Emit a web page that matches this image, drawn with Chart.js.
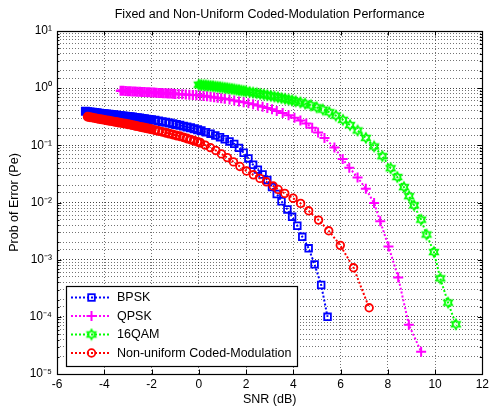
<!DOCTYPE html>
<html>
<head>
<meta charset="utf-8">
<script src="https://cdn.jsdelivr.net/npm/chart.js@4/dist/chart.umd.min.js"></script>
<style>
html,body{margin:0;padding:0;background:#fff;}
canvas{display:block;}
</style>
</head>
<body>
<canvas id="c" width="492" height="407"></canvas>
<script>
// ---------------- data ----------------
const chartTitle = 'Fixed and Non-Uniform Coded-Modulation Performance';
const xTitle = 'SNR (dB)';
const yTitle = 'Prob of Error (Pe)';
const seriesNames = ['BPSK', 'QPSK', '16QAM', 'Non-uniform Coded-Modulation'];
const xTickValues = [-6, -4, -2, 0, 2, 4, 6, 8, 10, 12];

const bpskSnr = [-4.8,-4.7,-4.6,-4.5,-4.4,-4.3,-4.2,-4.1,-4.0,-3.9,-3.8,-3.7,-3.6,-3.5,-3.4,-3.3,-3.2,-3.1,-3.0,-2.9,-2.8,-2.7,-2.6,-2.5,-2.4,-2.3,-2.2,-2.1,-2.0,
  -1.85,-1.7,-1.55,-1.4,-1.25,-1.1,-0.95,-0.8,-0.65,-0.5,-0.35,-0.2,-0.05,
  0.1,0.3,0.5,0.7,0.9,1.1,1.3,1.5,1.7,
  1.9,2.1,2.3,2.5,2.7,2.9,3.1,3.3,
  3.5,3.75,3.95,4.17,4.38,4.65,4.9,5.18,5.45];
const bpskPe = [0.394,0.389,0.385,0.380,0.376,0.372,0.367,0.363,0.359,0.355,0.351,0.347,0.343,0.339,0.335,0.331,0.327,0.324,0.320,0.316,0.313,0.309,0.305,0.301,0.296,0.292,0.288,0.284,0.281,
  0.274,0.267,0.260,0.253,0.246,0.239,0.232,0.224,0.217,0.210,0.203,0.195,0.188,
  0.180,0.170,0.160,0.149,0.139,0.128,0.117,0.106,0.0902,
  0.0741,0.0590,0.0457,0.0376,0.0309,0.0248,0.0186,0.0141,
  0.0105,0.00757,0.00562,0.00392,0.00251,0.00158,0.000828,0.000360,0.000100];

const qpskSnr = [-3.3,-3.2,-3.1,-3.0,-2.9,-2.8,-2.7,-2.6,-2.5,-2.4,-2.3,-2.2,-2.1,-2.0,-1.9,-1.8,-1.7,-1.6,-1.5,-1.4,-1.3,-1.2,-1.1,-1.0,
  -0.85,-0.7,-0.55,-0.4,-0.25,-0.1,0.05,0.2,0.35,0.5,0.65,0.8,0.95,1.1,
  1.3,1.5,1.7,1.9,2.1,2.3,2.5,2.7,2.9,3.1,
  3.3,3.55,3.8,4.05,4.3,4.55,4.8,5.05,5.32,5.74,6.09,6.37,6.72,7.07,7.42,7.68,8.03,8.44,8.89,9.41];
const qpskPe = [0.902,0.898,0.893,0.887,0.883,0.877,0.873,0.869,0.863,0.859,0.855,0.849,0.845,0.841,0.836,0.832,0.826,0.822,0.817,0.813,0.807,0.803,0.798,0.794,
  0.787,0.780,0.774,0.767,0.760,0.754,0.746,0.733,0.719,0.706,0.692,0.678,0.664,0.650,
  0.631,0.610,0.587,0.566,0.545,0.521,0.499,0.475,0.451,0.426,
  0.400,0.367,0.335,0.303,0.272,0.240,0.204,0.168,0.135,0.0912,0.0575,0.0407,0.0275,0.0174,0.00977,0.00468,0.00170,0.000490,0.0000724,0.0000245];

const qamSnr = [0.0,0.1,0.2,0.3,0.4,0.5,0.6,0.7,0.8,0.9,1.0,1.1,1.2,1.3,1.4,1.5,1.6,1.7,1.8,1.9,2.0,
  2.15,2.3,2.45,2.6,2.75,2.9,3.05,3.2,3.35,3.5,3.65,3.8,3.95,
  4.1,4.3,4.5,4.75,4.99,5.25,5.52,5.80,6.10,6.40,6.72,7.07,7.42,7.77,8.12,8.40,8.68,8.90,9.11,9.41,9.64,9.95,10.22,10.55,10.88];
const qamPe = [1.148,1.138,1.127,1.117,1.107,1.094,1.081,1.069,1.057,1.042,1.028,1.014,1.000,0.986,0.971,0.955,0.940,0.925,0.910,0.895,0.879,
  0.857,0.836,0.815,0.794,0.774,0.753,0.733,0.713,0.692,0.671,0.652,0.631,0.611,
  0.590,0.564,0.537,0.501,0.462,0.422,0.380,0.331,0.279,0.226,0.182,0.135,0.0955,0.0646,0.0398,0.0279,0.0186,0.0129,0.00891,0.00501,0.00275,0.00136,0.000471,0.000177,0.0000740];

const ncmSnr = [-4.7,-4.6,-4.5,-4.4,-4.3,-4.2,-4.1,-4.0,-3.9,-3.8,-3.7,-3.6,-3.5,-3.4,-3.3,-3.2,-3.1,-3.0,-2.9,-2.8,-2.7,-2.6,-2.5,-2.4,-2.3,-2.2,-2.1,-2.0,
  -1.85,-1.7,-1.55,-1.4,-1.25,-1.1,-0.95,-0.8,-0.65,-0.5,-0.35,-0.2,-0.05,
  0.06,0.27,0.49,0.72,0.96,1.21,1.47,1.74,
  2.02,2.31,2.59,2.86,3.15,3.36,3.64,3.99,4.31,4.65,5.07,5.50,5.99,6.55,7.21];
const ncmPe = [0.316,0.310,0.305,0.299,0.294,0.288,0.284,0.279,0.274,0.269,0.265,0.260,0.256,0.251,0.247,0.243,0.239,0.234,0.230,0.225,0.220,0.216,0.211,0.207,0.203,0.199,0.195,0.191,
  0.184,0.178,0.172,0.166,0.160,0.155,0.149,0.144,0.138,0.132,0.126,0.120,0.115,
  0.111,0.101,0.0912,0.0813,0.0708,0.0610,0.0513,0.0427,
  0.0355,0.0305,0.0264,0.0230,0.0194,0.0169,0.0144,0.0119,0.00964,0.00716,0.00492,0.00320,0.00178,0.000721,0.000144];

// ---------------- styling ----------------
const FONT = '"Liberation Sans", Arial, Helvetica, sans-serif';
Chart.defaults.font.family = FONT;
Chart.defaults.color = '#000';

function hexagram(color, R, filled) {
  const s = Math.ceil(2 * R + 4);
  const c = document.createElement('canvas');
  c.width = s; c.height = s;
  const g = c.getContext('2d');
  g.strokeStyle = color; g.fillStyle = color; g.lineWidth = 1.7; g.lineJoin = 'miter';
  g.beginPath();
  for (let k = 0; k < 12; k++) {
    const a = -Math.PI / 2 + k * Math.PI / 6;
    const r = (k % 2 === 0) ? R : R / Math.sqrt(3);
    const px = s / 2 + r * Math.cos(a), py = s / 2 + r * Math.sin(a);
    if (k === 0) g.moveTo(px, py); else g.lineTo(px, py);
  }
  g.closePath();
  if (filled) g.fill();
  g.stroke();
  return c;
}
const hexImg = hexagram('#00ff00', 4.8, false);
const hexFilled = hexagram('#00ff00', 4.8, true);

function pts(xs, ys) { return xs.map((x, i) => ({x: x, y: ys[i]})); }
function isDecade(v) {
  const e = Math.round(Math.log10(v));
  return Math.abs(v - Math.pow(10, e)) / Math.pow(10, e) < 1e-6;
}
const SUP = {'0':'⁰','1':'¹','2':'²','3':'³','4':'⁴','5':'⁵','6':'⁶','7':'⁷','8':'⁸','9':'⁹','-':'⁻'};
function supStr(n) { return String(n).split('').map(ch => SUP[ch]).join(''); }

// nearest-neighbour spacing of each point: where the reference markers pile up
// into a solid band, the markers are drawn solid.
function gaps(xs) {
  return xs.map((x, i) => {
    let g = Infinity;
    if (i > 0) g = Math.min(g, x - xs[i - 1]);
    if (i < xs.length - 1) g = Math.min(g, xs[i + 1] - x);
    return g;
  });
}
const TRANSP = 'rgba(0,0,0,0)';
function fillArr(xs, color) { return gaps(xs).map(g => g < 0.105 ? color : TRANSP); }
function widthArr(xs, dense, mid, sparse) { return gaps(xs).map(g => g < 0.105 ? dense : (g < 0.16 ? mid : sparse)); }

const common = { borderWidth: 2, borderDash: [2, 2], tension: 0, backgroundColor: TRANSP, pointHoverRadius: 5 };

const datasets = [
  Object.assign({}, common, { label: seriesNames[0], data: pts(bpskSnr, bpskPe), borderColor: '#0000ff', pointBorderColor: '#0000ff',
    pointBackgroundColor: fillArr(bpskSnr, '#0000ff'), pointBorderWidth: widthArr(bpskSnr, 2.2, 2.3, 1.8), pointStyle: 'rect', pointRadius: 4.7, order: 4 }),
  Object.assign({}, common, { label: seriesNames[1], data: pts(qpskSnr, qpskPe), borderColor: '#ff00ff', pointBorderColor: '#ff00ff',
    pointBackgroundColor: TRANSP, pointBorderWidth: widthArr(qpskSnr, 2.6, 2.2, 2), pointStyle: 'cross', pointRadius: 5, order: 3 }),
  Object.assign({}, common, { label: seriesNames[2], data: pts(qamSnr, qamPe), borderColor: '#00ff00', pointBorderColor: '#00ff00',
    pointBackgroundColor: TRANSP, pointStyle: gaps(qamSnr).map(g => g < 0.105 ? hexFilled : hexImg), pointRadius: 5, order: 2 }),
  Object.assign({}, common, { label: seriesNames[3], data: pts(ncmSnr, ncmPe), borderColor: '#ff0000', pointBorderColor: '#ff0000',
    pointBackgroundColor: fillArr(ncmSnr, '#ff0000'), pointBorderWidth: widthArr(ncmSnr, 2.2, 2.3, 1.8), pointStyle: 'circle', pointRadius: 3.8, order: 1 })
];
const legendMarkers = ['rect', 'cross', hexImg, 'circle'];

// axes box + inward tick marks (MATLAB style)
const framePlugin = {
  id: 'frame',
  afterDatasetsDraw(chart) {
    const {ctx, chartArea: a, scales: {x, y}} = chart;
    ctx.save();
    ctx.strokeStyle = '#000'; ctx.lineWidth = 1;
    ctx.beginPath();
    x.ticks.forEach(t => {
      const px = Math.round(x.getPixelForValue(t.value)) + 0.5;
      ctx.moveTo(px, a.bottom); ctx.lineTo(px, a.bottom - 4.5);
      ctx.moveTo(px, a.top); ctx.lineTo(px, a.top + 4.5);
    });
    y.ticks.forEach(t => {
      const py = Math.round(y.getPixelForValue(t.value)) + 0.5;
      const L = isDecade(t.value) ? 4.5 : 2.5;
      ctx.moveTo(a.left, py); ctx.lineTo(a.left + L, py);
      ctx.moveTo(a.right, py); ctx.lineTo(a.right - L, py);
    });
    ctx.stroke();
    ctx.lineWidth = 1.2;
    ctx.strokeRect(Math.round(a.left) + 0.5, Math.round(a.top) + 0.5, Math.round(a.right - a.left), Math.round(a.bottom - a.top));
    ctx.restore();
  }
};

// MATLAB-like legend box inside the axes, bottom-left
const legendPlugin = {
  id: 'matlabLegend',
  afterDraw(chart) {
    const ctx = chart.ctx;
    const bx = 66.5, by = 286.5, bw = 231, bh = 80;
    ctx.save();
    ctx.fillStyle = '#fff'; ctx.fillRect(bx, by, bw, bh);
    ctx.strokeStyle = '#000'; ctx.lineWidth = 1.2; ctx.strokeRect(bx, by, bw, bh);
    const rowY = [297.5, 316, 334.5, 353];
    chart.data.datasets.forEach((ds, i) => {
      const yy = rowY[i];
      const style = legendMarkers[i];
      ctx.save();
      ctx.strokeStyle = ds.borderColor; ctx.lineWidth = 2; ctx.setLineDash([2, 2]);
      ctx.beginPath(); ctx.moveTo(71, yy); ctx.lineTo(111, yy); ctx.stroke();
      ctx.restore();
      const mx = 91.5;
      ctx.save();
      ctx.strokeStyle = ds.borderColor; ctx.lineWidth = 1.8;
      if (style === 'rect') { ctx.strokeRect(mx - 3.3, yy - 3.3, 6.6, 6.6); }
      else if (style === 'circle') { ctx.beginPath(); ctx.arc(mx, yy, 3.8, 0, Math.PI * 2); ctx.stroke(); }
      else if (style === 'cross') { ctx.lineWidth = 2; ctx.beginPath(); ctx.moveTo(mx - 5, yy); ctx.lineTo(mx + 5, yy); ctx.moveTo(mx, yy - 5); ctx.lineTo(mx, yy + 5); ctx.stroke(); }
      else { ctx.drawImage(style, mx - style.width / 2, yy - style.height / 2); }
      ctx.restore();
      ctx.fillStyle = '#000'; ctx.font = '12.5px ' + FONT; ctx.textBaseline = 'middle'; ctx.textAlign = 'left';
      ctx.fillText(ds.label, 117, yy + 0.5);
    });
    ctx.restore();
  }
};

const gridColor = 'rgba(0,0,0,0.55)';

new Chart(document.getElementById('c'), {
  type: 'line',
  data: { datasets: datasets },
  plugins: [framePlugin, legendPlugin],
  options: {
    responsive: false,
    animation: false,
    layout: { padding: { left: 0, right: 6, top: 0, bottom: 0 } },
    plugins: {
      legend: { display: false },
      tooltip: { enabled: false },
      title: { display: true, fullSize: false, text: chartTitle, color: '#000', font: { size: 12.5, weight: 'normal', family: FONT }, padding: { top: 7, bottom: 9 } }
    },
    scales: {
      x: {
        type: 'linear', min: -6, max: 12,
        afterBuildTicks(scale) { scale.ticks = xTickValues.map(v => ({value: v})); },
        afterFit(scale) { scale.height = 33; },
        ticks: { font: { size: 12 }, color: '#000', padding: 3, autoSkip: false, maxRotation: 0 },
        grid: { color: gridColor, lineWidth: 1, drawTicks: false },
        border: { display: false, dash: [1, 2] },
        title: { display: true, text: xTitle, color: '#000', font: { size: 12.5 }, padding: { top: 0, bottom: 0 } }
      },
      y: {
        type: 'logarithmic', min: 1e-5, max: 10,
        afterFit(scale) { scale.width = 57; },
        ticks: { font: { size: 12 }, color: '#000', padding: 5, autoSkip: false,
          callback(v) { return isDecade(v) ? '10' + supStr(Math.round(Math.log10(v))) : ''; } },
        grid: { color: (c) => (c.tick && isDecade(c.tick.value)) ? 'rgba(0,0,0,0.75)' : gridColor, lineWidth: 1, drawTicks: false },
        border: { display: false, dash: [1, 2] },
        title: { display: true, text: yTitle, color: '#000', font: { size: 12.5 }, padding: { top: 7, bottom: 2 } }
      }
    }
  }
});
</script>
</body>
</html>
